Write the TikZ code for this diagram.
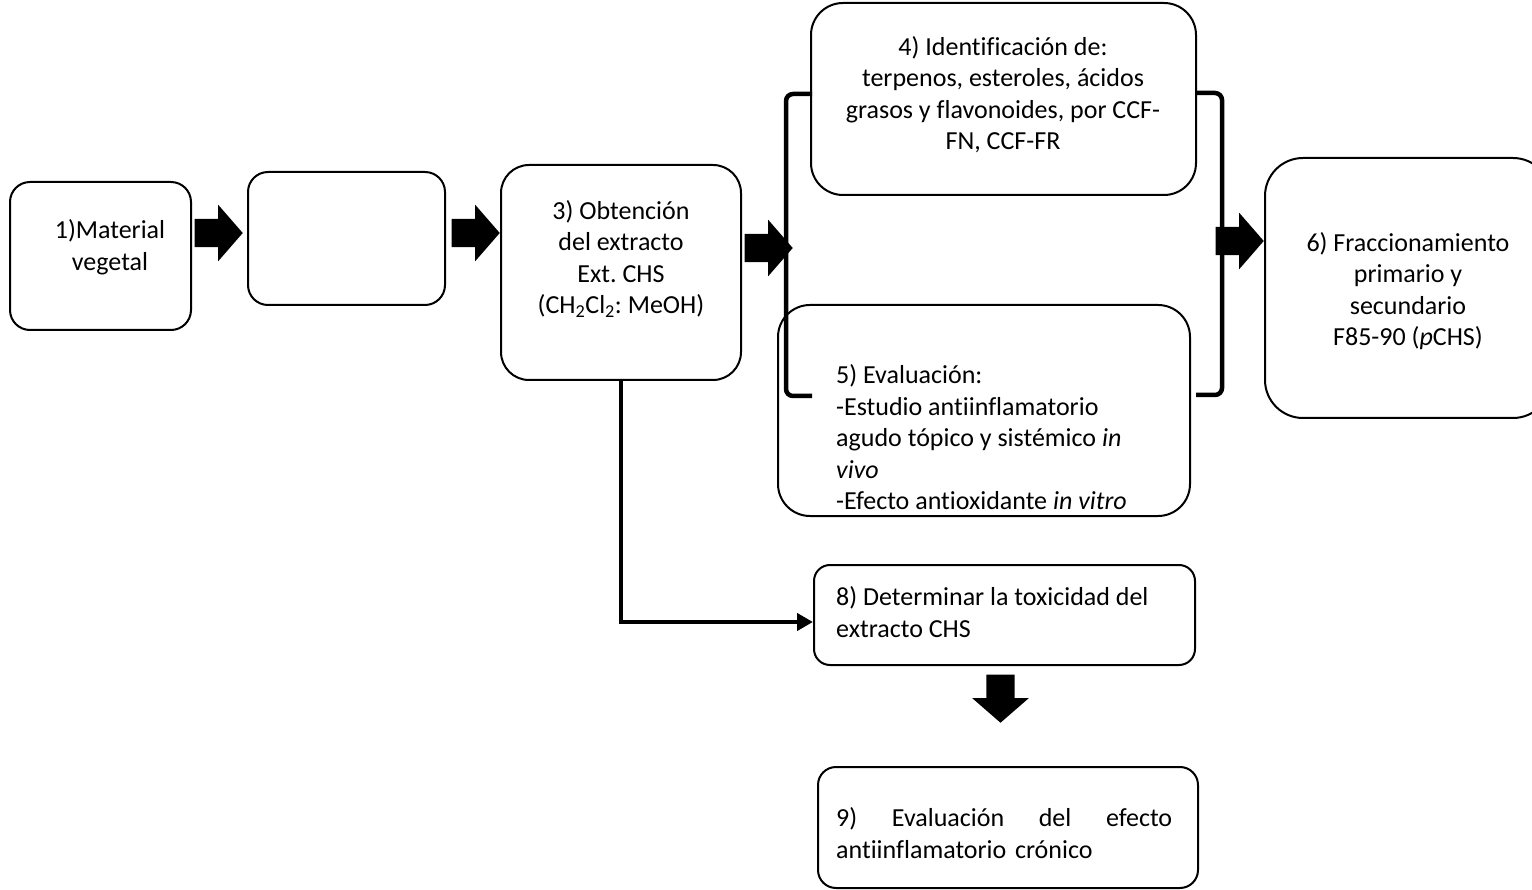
\documentclass[tikz,border=0pt]{standalone}
\usepackage{fontspec}
\setmainfont{Carlito}[Ligatures=NoCommon]
\usetikzlibrary{shapes.arrows,arrows.meta,positioning}

\tikzset{
  box/.style={draw, line width=2pt, rounded corners=#1, inner sep=0pt},
  box/.default=20pt,
  txt/.style={font=\fontsize{26}{31.5}\selectfont\frenchspacing, inner sep=0pt, align=center},
  blk/.style={single arrow, fill=black, inner xsep=0pt, inner ysep=14pt,
    minimum height=48pt, single arrow head extend=14pt,
    single arrow tip angle=98, rotate=#1},
  blk/.default=0,
  brk/.style={line width=4.5pt, rounded corners=7pt},
}

\begin{document}
\begin{tikzpicture}[x=1pt,y=-1pt]

  \useasboundingbox (0,0) rectangle (1532,890);

  % the boxes
  \node[box, minimum width=181pt, minimum height=148pt] (b1) at (100.5,256) {};
  \node[box, minimum width=197pt, minimum height=133pt] (b2) at (346.5,238.5) {};
  \node[box=28pt, minimum width=240pt, minimum height=215pt] (b3) at (621,272.5) {};
  \node[box=32pt, minimum width=385pt, minimum height=192pt] (b4) at (1003.5,99) {};
  \node[box=32pt, minimum width=412pt, minimum height=211pt] (b5) at (984,410.5) {};
  \node[box=38pt, minimum width=286pt, minimum height=260pt] (b6) at (1408,288) {};
  \node[box=16pt, minimum width=381pt, minimum height=100pt] (b8) at (1004.5,615) {};
  \node[box=18pt, minimum width=380pt, minimum height=121pt] (b9) at (1008,827.5) {};

  % the texts
  \node[txt] (t1) at (110,247) {1)Material\\vegetal};
  \node[txt] (t3) at (621,259) {3) Obtención\\del extracto\\Ext. CHS\\(CH\textsubscript{2}Cl\textsubscript{2}: MeOH)};
  \node[txt] (t4) at (1003,94.5) {4) Identificación de:\\terpenos, esteroles, ácidos\\grasos y flavonoides, por CCF-\\FN, CCF-FR};
  \node[txt, anchor=west, align=left] (t5) at (836,437.5) {5) Evaluación:\\-Estudio antiinflamatorio\\agudo tópico y sistémico \textit{in}\\\textit{vivo}\\-Efecto antioxidante \textit{in vitro}};
  \node[txt] (t6) at (1408,291) {6) Fraccionamiento\\primario y\\secundario\\F85-90 (\textit{p}CHS)};
  \node[txt, anchor=west, align=left] (t8) at (836,612) {8) Determinar la toxicidad del\\extracto CHS};
  \node[txt, anchor=west, align=left, text width=336pt] (t9) at (836,833) {9)\hfill Evaluación\hfill del\hfill efecto\\antiinflamatorio crónico};

  % block arrows
  \node[blk, anchor=tip] (a12) at (243,233) {};
  \node[blk, anchor=tip] (a23) at (b3.west |- 0,233) {};
  \node[blk, anchor=tip] (a34) at (793,248) {};
  \node[blk, anchor=tip] (a46) at (b6.west |- 0,241) {};
  \node[blk=-90, anchor=tip] (a89) at (1000.5,723) {};

  % brackets round 4) and 5)
  \draw[brk] (812,94) -- (786,94) -- (786,396) -- (812,396);
  \draw[brk] (1196,93) -- (1222,93) -- (1222,395) -- (1196,395);

  % from 3) down to 8)
  \draw[line width=4pt, -{Triangle[length=16pt,width=17pt]}]
    (b3.south) |- ([yshift=-7pt]b8.west);

\end{tikzpicture}
\end{document}
